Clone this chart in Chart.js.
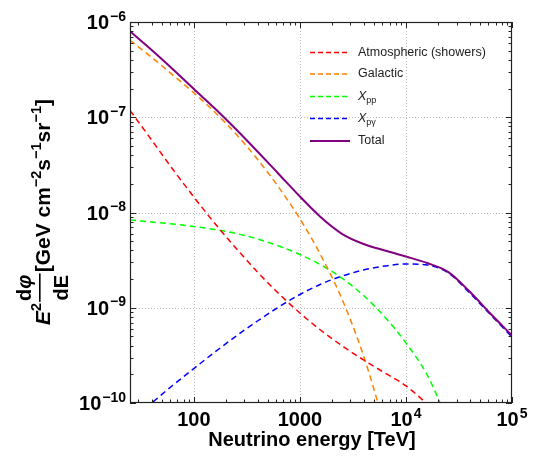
<!DOCTYPE html>
<html>
<head>
<meta charset="utf-8">
<script src="https://cdn.jsdelivr.net/npm/chart.js@4.4.1/dist/chart.umd.min.js"></script>
<style>
  html, body { margin: 0; padding: 0; background: #fff; }
</style>
</head>
<body>
<canvas id="graficoFlujo" width="536" height="462"></canvas>
<script>
// energia del neutrino [TeV]
const energia = [25, 40, 63, 100, 158, 251, 398, 631, 1000, 1585, 2512, 3981, 6310, 10000, 15849, 25119, 39811, 63096, 100000]

// E^2 dphi/dE [GeV cm^-2 s^-1 sr^-1]
const atmosferico = [1.18e-7, 5.77e-8, 2.86e-8, 1.455e-8, 7.66e-9, 4.19e-9, 2.37e-9, 1.41e-9, 8.81e-10, 5.77e-10, 3.97e-10, 2.83e-10, 2.07e-10, 1.51e-10, 9.76e-11, 6.02e-11, null, null, null]
const galactico = [6.43e-7, 4.25e-7, 2.79e-7, 1.805e-7, 1.127e-7, 6.62e-8, 3.62e-8, 1.84e-8, 8.59e-9, 3.51e-9, 1.212e-9, 3.13e-10, 5.76e-11, null, null, null, null, null, null]
const xpp = [8.34e-9, 7.95e-9, 7.57e-9, 7.13e-9, 6.63e-9, 6.02e-9, 5.27e-9, 4.45e-9, 3.62e-9, 2.81e-9, 2.03e-9, 1.345e-9, 8.0e-10, 4.27e-10, 1.97e-10, 6.32e-11, null, null, null]
const xpg = [6.47e-11, 1.0e-10, 1.527e-10, 2.30e-10, 3.43e-10, 5.05e-10, 7.26e-10, 1.018e-9, 1.377e-9, 1.775e-9, 2.154e-9, 2.49e-9, 2.74e-9, 2.88e-9, 2.81e-9, 2.32e-9, 1.429e-9, 8.39e-10, 4.93e-10]
const total = [7.99e-7, 5.08e-7, 3.21e-7, 1.98e-7, 1.236e-7, 7.43e-8, 4.37e-8, 2.54e-8, 1.472e-8, 8.86e-9, 5.94e-9, 4.67e-9, 3.99e-9, 3.45e-9, 2.95e-9, 2.37e-9, 1.481e-9, 8.6e-10, 5.11e-10]

const nombres = ["Atmospheric (showers)", "Galactic", "X", "X", "Total"]
const subindices = ["", "", "pp", "p\u03b3", ""]

const xTicks = [100, 1000, 1e4, 1e5]
const xTickTexto = ["100", "1000", "10^4", "10^5"]
const yTicks = [1e-10, 1e-9, 1e-8, 1e-7, 1e-6]
const yTickTexto = ["10^\u221210", "10^\u22129", "10^\u22128", "10^\u22127", "10^\u22126"]

const colores = ["#ff0000", "#ff8000", "#00ff00", "#0000ff", "#800080"]
const FUENTE = '"Liberation Sans", Arial, sans-serif'

const puntos = (serie) => energia.map((e, i) => ({ x: e, y: serie[i] })).filter((p) => p.y !== null)

const series = [atmosferico, galactico, xpp, xpg, total]
const datasets = series.map((s, i) => ({
  label: nombres[i] + subindices[i],
  data: puntos(s),
  borderColor: colores[i],
  borderWidth: i === 4 ? 2 : 1.5,
  borderDash: i === 4 ? [] : [6, 4],
  pointRadius: 0,
  cubicInterpolationMode: "monotone",
  order: i === 4 ? 0 : i + 1,
}))

// texto con exponente: "10^4"
function textoExp(ctx, texto, x, y, alin, tam, tamSup) {
  const partes = texto.split("^")
  ctx.font = "bold " + tam + "px " + FUENTE
  const w1 = ctx.measureText(partes[0]).width
  let w2 = 0
  if (partes[1]) {
    ctx.font = "bold " + tamSup + "px " + FUENTE
    w2 = ctx.measureText(partes[1]).width + 1
  }
  let x0 = x
  if (alin === "center") x0 = x - (w1 + w2) / 2
  if (alin === "right") x0 = x - (w1 + w2)
  ctx.textAlign = "left"
  ctx.textBaseline = "alphabetic"
  ctx.font = "bold " + tam + "px " + FUENTE
  ctx.fillText(partes[0], x0, y)
  if (partes[1]) {
    ctx.font = "bold " + tamSup + "px " + FUENTE
    ctx.fillText(partes[1], x0 + w1 + 1, y - tam * 0.42)
  }
}

function tituloY(ctx) {
  const big = "bold 21px " + FUENTE
  const sup = "bold 14.5px " + FUENTE
  const piezas = [
    { t: "E", f: "italic bold 21px " + FUENTE, dy: 0 },
    { t: "2", f: sup, dy: -9 },
    { frac: true },
    { t: "[GeV cm", f: big, dy: 0 },
    { t: "\u22122", f: sup, dy: -9 },
    { t: "s", f: big, dy: 0 },
    { t: "\u22121", f: sup, dy: -9 },
    { t: "sr", f: big, dy: 0 },
    { t: "\u22121", f: sup, dy: -9 },
    { t: "]", f: big, dy: 0 },
  ]
  ctx.save()
  ctx.translate(50, 212)
  ctx.rotate(-Math.PI / 2)
  ctx.fillStyle = "#000"
  ctx.textBaseline = "alphabetic"
  ctx.textAlign = "left"
  const fracFont = "bold 20px " + FUENTE
  let anchos = piezas.map((p) => {
    if (p.frac) {
      ctx.font = fracFont
      return Math.max(ctx.measureText("d\u03c6").width, ctx.measureText("dE").width) + 4
    }
    ctx.font = p.f
    return ctx.measureText(p.t).width
  })
  const W = anchos.reduce((a, b) => a + b, 0)
  let x = -W / 2
  piezas.forEach((p, i) => {
    if (p.frac) {
      ctx.font = fracFont
      const wn = ctx.measureText("d\u03c6").width
      const wd = ctx.measureText("dE").width
      ctx.fillText("d", x + 2 + (anchos[i] - 4 - wn) / 2, -19)
      const wdd = ctx.measureText("d").width
      ctx.font = "italic bold 20px " + FUENTE
      ctx.fillText("\u03c6", x + 2 + (anchos[i] - 4 - wn) / 2 + wdd, -19)
      ctx.font = fracFont
      ctx.fillText("dE", x + 2 + (anchos[i] - 4 - wd) / 2, 18)
      ctx.fillRect(x + 1, -11, anchos[i] - 2, 1.6)
    } else {
      ctx.font = p.f
      ctx.fillText(p.t, x, p.dy)
    }
    x += anchos[i]
  })
  ctx.restore()
}

const marco = {
  id: "marco",
  beforeDatasetsDraw(chart) {
    const { ctx, chartArea: a, scales } = chart
    ctx.save()
    ctx.strokeStyle = "#b9b9b9"
    ctx.lineWidth = 1
    ctx.setLineDash([1, 2])
    xTicks.forEach((v) => {
      const px = Math.round(scales.x.getPixelForValue(v)) + 0.5
      if (px > a.right - 2) return
      ctx.beginPath(); ctx.moveTo(px, a.top); ctx.lineTo(px, a.bottom); ctx.stroke()
    })
    yTicks.forEach((v) => {
      const py = Math.round(scales.y.getPixelForValue(v)) + 0.5
      if (py < a.top + 2 || py > a.bottom - 2) return
      ctx.beginPath(); ctx.moveTo(a.left, py); ctx.lineTo(a.right, py); ctx.stroke()
    })
    ctx.restore()
  },
  afterDraw(chart) {
    const { ctx, chartArea: a, scales } = chart
    ctx.save()
    // marco
    ctx.strokeStyle = "#222"
    ctx.lineWidth = 1.2
    ctx.strokeRect(a.left + 0.5, a.top + 0.5, a.right - a.left - 1, a.bottom - a.top - 1)
    // marcas del marco
    ctx.lineWidth = 1
    ctx.beginPath()
    for (let n = 1; n <= 5; n++) {
      for (let k = 1; k <= 9; k++) {
        const v = k * Math.pow(10, n)
        if (v < 25 || v > 1e5) continue
        const px = Math.round(scales.x.getPixelForValue(v)) + 0.5
        const l = k === 1 ? 6 : 3.5
        ctx.moveTo(px, a.bottom); ctx.lineTo(px, a.bottom - l)
        ctx.moveTo(px, a.top); ctx.lineTo(px, a.top + l)
      }
    }
    for (let n = -10; n <= -6; n++) {
      for (let k = 1; k <= 9; k++) {
        const v = k * Math.pow(10, n)
        if (v < 1e-10 || v > 1e-6 * 1.0001) continue
        const py = Math.round(scales.y.getPixelForValue(v)) + 0.5
        const l = k === 1 ? 6 : 3.5
        ctx.moveTo(a.left, py); ctx.lineTo(a.left + l, py)
        ctx.moveTo(a.right, py); ctx.lineTo(a.right - l, py)
      }
    }
    ctx.stroke()

    // etiquetas de los ejes
    ctx.fillStyle = "#000"
    xTicks.forEach((v, i) => {
      textoExp(ctx, xTickTexto[i], scales.x.getPixelForValue(v), a.bottom + 23, "center", 20, 14)
    })
    yTicks.forEach((v, i) => {
      textoExp(ctx, yTickTexto[i], a.left - 4, scales.y.getPixelForValue(v) + 7, "right", 20, 14)
    })

    ctx.font = "bold 20px " + FUENTE
    ctx.textAlign = "center"
    ctx.fillText("Neutrino energy [TeV]", 312, 446)
    tituloY(ctx)

    // leyenda
    const filas = [52.5, 74, 96.5, 118.5, 141]
    chart.data.datasets.forEach((d, i) => {
      const y = filas[i]
      ctx.strokeStyle = d.borderColor
      ctx.lineWidth = d.borderWidth
      ctx.setLineDash(d.borderDash.length ? [5, 3] : [])
      ctx.beginPath(); ctx.moveTo(310, y); ctx.lineTo(350, y); ctx.stroke()
      ctx.setLineDash([])
      ctx.fillStyle = "#222"
      ctx.textAlign = "left"
      ctx.textBaseline = "middle"
      if (subindices[i]) {
        ctx.font = "italic 12.5px " + FUENTE
        ctx.fillText(nombres[i], 358, y)
        const w = ctx.measureText(nombres[i]).width
        ctx.font = "9px " + FUENTE
        ctx.fillText(subindices[i], 358 + w, y + 4)
      } else {
        ctx.font = "12.5px " + FUENTE
        ctx.fillText(nombres[i], 358, y)
      }
    })
    ctx.restore()
  },
}

new Chart(document.getElementById("graficoFlujo"), {
  type: "line",
  data: { datasets: datasets },
  options: {
    responsive: false,
    animation: false,
    devicePixelRatio: 1,
    layout: { padding: { left: 130, right: 24, top: 22, bottom: 59 } },
    plugins: { legend: { display: false }, tooltip: { enabled: false } },
    scales: {
      x: { type: "logarithmic", min: 25, max: 1e5, display: false },
      y: { type: "logarithmic", min: 1e-10, max: 1e-6, display: false },
    },
  },
  plugins: [marco],
})
</script>
</body>
</html>
